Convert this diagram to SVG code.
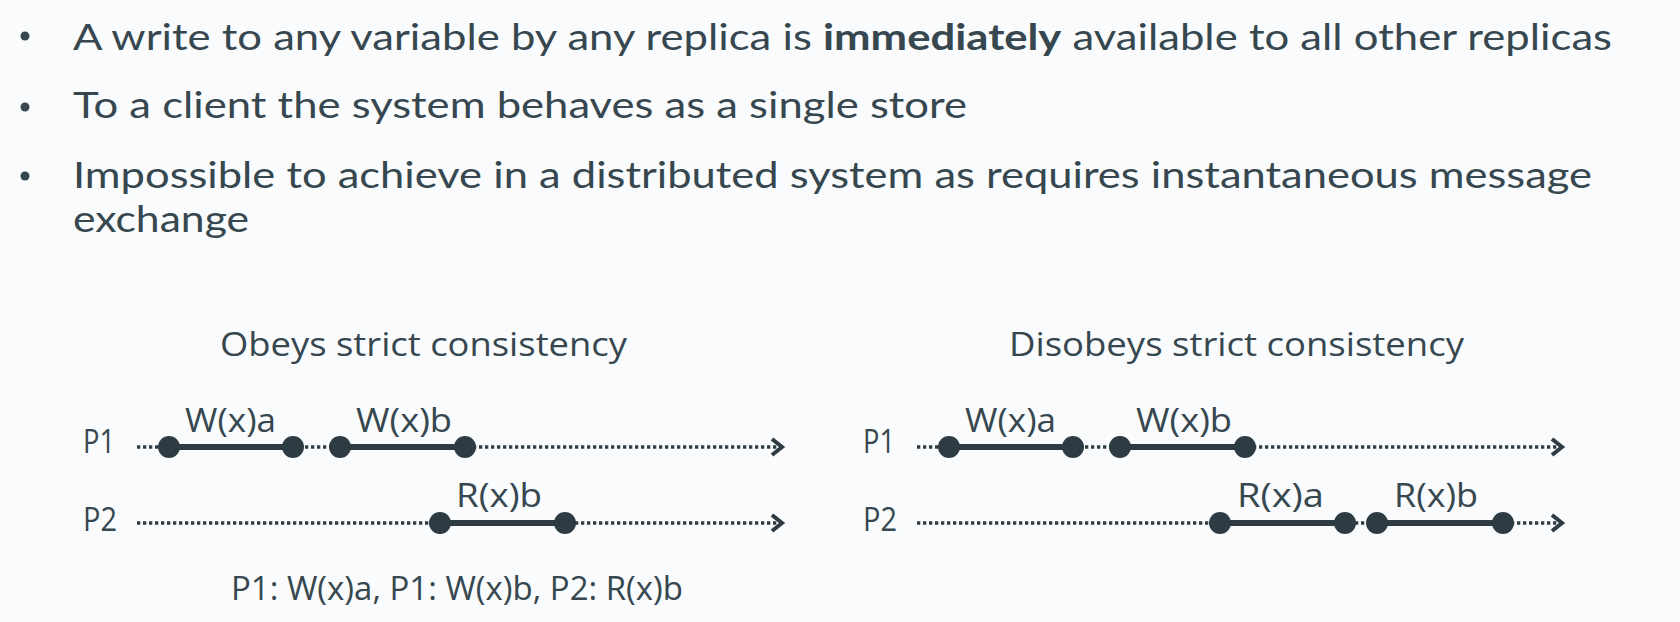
<svg xmlns="http://www.w3.org/2000/svg" width="1680" height="622" viewBox="0 0 1680 622">
<defs>
<style>
.t{font-family:"Open Sans","Noto Sans","Liberation Sans",sans-serif;fill:#37474f}
.b{font-family:Lato,"Open Sans","Liberation Sans",sans-serif;font-size:36px}
.d{font-size:33px}
.dot{stroke:#2e3b43;stroke-width:3.4;stroke-dasharray:3.3 2.7;fill:none}
.seg{stroke:#2e3b43;stroke-width:6;fill:none}
.ev{fill:#2e3b43}
.bul{fill:#37474f}
</style>
<marker id="arr" markerWidth="20" markerHeight="22" refX="16" refY="11" orient="auto" markerUnits="userSpaceOnUse">
<path d="M5,3 L15,11 L5,19" fill="none" stroke="#2e3b43" stroke-width="4"/>
</marker>
</defs>
<rect width="1680" height="622" fill="#f9fbfd"/>
<g id="bullets">
<circle class="bul" cx="25" cy="36" r="4.5"/>
<text class="t b" x="73" y="50" textLength="1539" lengthAdjust="spacingAndGlyphs">A write to any variable by any replica is <tspan font-weight="bold">immediately</tspan> available to all other replicas</text>
<circle class="bul" cx="25" cy="107" r="4.5"/>
<text class="t b" x="73" y="118" textLength="894" lengthAdjust="spacingAndGlyphs">To a client the system behaves as a single store</text>
<circle class="bul" cx="25" cy="176" r="4.5"/>
<text class="t b" x="73" y="188" textLength="1519" lengthAdjust="spacingAndGlyphs">Impossible to achieve in a distributed system as requires instantaneous message</text>
<text class="t b" x="73" y="232" textLength="176" lengthAdjust="spacingAndGlyphs">exchange</text>
</g>
<g id="left-diagram">
<text class="t d" x="220" y="356" textLength="407" lengthAdjust="spacingAndGlyphs">Obeys strict consistency</text>
<text class="t d" x="83" y="453" textLength="32" lengthAdjust="spacingAndGlyphs">P1</text>
<text class="t d" x="83" y="531" textLength="34" lengthAdjust="spacingAndGlyphs">P2</text>
<text class="t d" x="185" y="432" textLength="91" lengthAdjust="spacingAndGlyphs">W(x)a</text>
<text class="t d" x="356" y="432" textLength="96" lengthAdjust="spacingAndGlyphs">W(x)b</text>
<text class="t d" x="456" y="507" textLength="86" lengthAdjust="spacingAndGlyphs">R(x)b</text>
<text class="t d" x="231" y="600" textLength="452" lengthAdjust="spacingAndGlyphs">P1: W(x)a, P1: W(x)b, P2: R(x)b</text>
</g>
<g id="right-diagram">
<text class="t d" x="1009" y="356" textLength="455" lengthAdjust="spacingAndGlyphs">Disobeys strict consistency</text>
<text class="t d" x="863" y="453" textLength="32" lengthAdjust="spacingAndGlyphs">P1</text>
<text class="t d" x="863" y="531" textLength="34" lengthAdjust="spacingAndGlyphs">P2</text>
<text class="t d" x="965" y="432" textLength="91" lengthAdjust="spacingAndGlyphs">W(x)a</text>
<text class="t d" x="1136" y="432" textLength="96" lengthAdjust="spacingAndGlyphs">W(x)b</text>
<text class="t d" x="1237" y="507" textLength="87" lengthAdjust="spacingAndGlyphs">R(x)a</text>
<text class="t d" x="1394" y="507" textLength="84" lengthAdjust="spacingAndGlyphs">R(x)b</text>
</g>
<g id="connectors">
<line class="dot" x1="137" y1="447" x2="783" y2="447" marker-end="url(#arr)"/>
<line class="dot" x1="137" y1="523" x2="783" y2="523" marker-end="url(#arr)"/>
<line class="seg" x1="169" y1="447" x2="293" y2="447"/>
<line class="seg" x1="340" y1="447" x2="465" y2="447"/>
<line class="seg" x1="440" y1="523" x2="565" y2="523"/>
<line class="dot" x1="917" y1="447" x2="1563" y2="447" marker-end="url(#arr)"/>
<line class="dot" x1="917" y1="523" x2="1563" y2="523" marker-end="url(#arr)"/>
<line class="seg" x1="949" y1="447" x2="1073" y2="447"/>
<line class="seg" x1="1120" y1="447" x2="1245" y2="447"/>
<line class="seg" x1="1220" y1="523" x2="1345" y2="523"/>
<line class="seg" x1="1377" y1="523" x2="1503" y2="523"/>
</g>
<g id="events">
<circle class="ev" cx="169" cy="447" r="11"/><circle class="ev" cx="293" cy="447" r="11"/>
<circle class="ev" cx="340" cy="447" r="11"/><circle class="ev" cx="465" cy="447" r="11"/>
<circle class="ev" cx="440" cy="523" r="11"/><circle class="ev" cx="565" cy="523" r="11"/>
<circle class="ev" cx="949" cy="447" r="11"/><circle class="ev" cx="1073" cy="447" r="11"/>
<circle class="ev" cx="1120" cy="447" r="11"/><circle class="ev" cx="1245" cy="447" r="11"/>
<circle class="ev" cx="1220" cy="523" r="11"/><circle class="ev" cx="1345" cy="523" r="11"/>
<circle class="ev" cx="1377" cy="523" r="11"/><circle class="ev" cx="1503" cy="523" r="11"/>
</g>
</svg>
